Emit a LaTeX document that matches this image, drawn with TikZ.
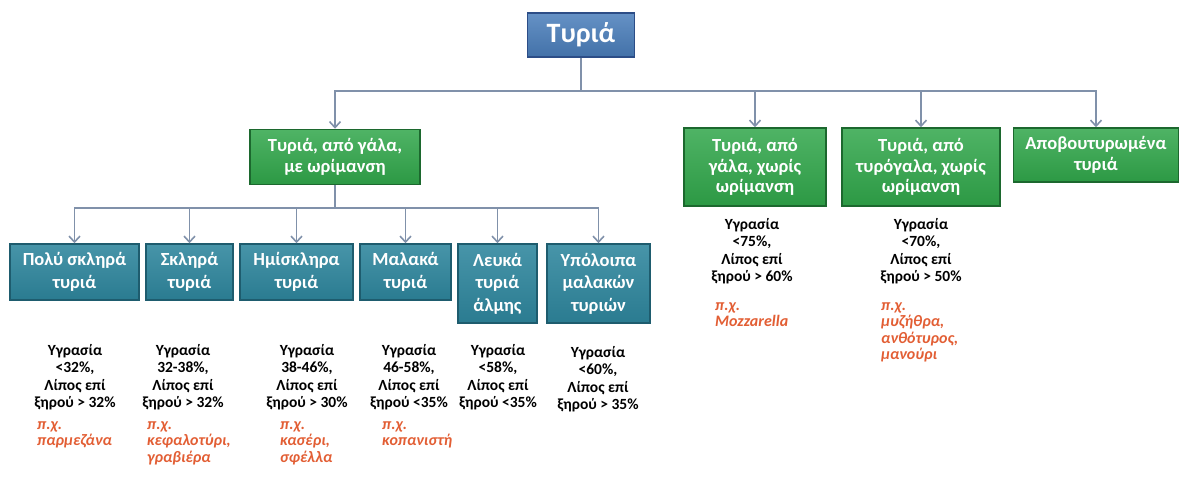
\documentclass[tikz,border=0pt]{standalone}
\usepackage{fontspec}
\setmainfont{Carlito}
\usetikzlibrary{arrows.meta, positioning}

\definecolor{rootblue}{RGB}{74,126,187}
\definecolor{rootedge}{RGB}{44,77,135}
\definecolor{boxgreen}{RGB}{48,166,74}
\definecolor{greenedge}{RGB}{28,104,46}
\definecolor{boxteal}{RGB}{46,134,157}
\definecolor{tealedge}{RGB}{30,92,110}
\definecolor{linkgray}{RGB}{128,145,170}
\definecolor{exred}{RGB}{226,94,52}

\tikzset{
  rootbox/.style={draw=rootedge, line width=1.5pt, top color=rootblue!85!white, bottom color=rootblue!90!black,
    text=white, font=\fontsize{28}{32}\selectfont\bfseries, minimum width=107, minimum height=44, inner sep=0},
  greenbox/.style={draw=greenedge, line width=1.5pt, top color=boxgreen!85!white, bottom color=boxgreen!92!black,
    text=white, align=center, font=\fontsize{18.5}{20.5}\selectfont\bfseries, inner sep=0},
  tealbox/.style={draw=tealedge, line width=1.5pt, top color=boxteal!88!white, bottom color=boxteal!92!black,
    text=white, align=center, font=\fontsize{18.5}{22.5}\selectfont\bfseries, inner sep=0},
  info/.style={align=center, font=\fontsize{15.5}{17.5}\selectfont\bfseries, inner sep=0, anchor=north},
  example/.style={align=left, text=exred, font=\fontsize{16}{16.5}\selectfont\bfseries\itshape,
    inner sep=0, anchor=north west},
  link/.style={draw=linkgray, line width=1.6pt, -{Straight Barb[length=6pt, width=11pt]}}
}

\begin{document}
\begin{tikzpicture}[x=1pt, y=-1pt]
\useasboundingbox (0,0) rectangle (1181,477);

% κορυφή
\node[rootbox] (root) at (581,35) {Τυριά};

% πρώτο επίπεδο
\node[greenbox, minimum width=170, minimum height=55] (gwr) at (335,157) {Τυριά, από γάλα,\\ με ωρίμανση};
\node[greenbox, minimum width=142, minimum height=78] (gxw) at (755,167) {Τυριά, από\\ γάλα, χωρίς\\ ωρίμανση};
\node[greenbox, minimum width=158, minimum height=78] (gtg) at (921,167) {Τυριά, από\\ τυρόγαλα, χωρίς\\ ωρίμανση};
\node[greenbox, minimum width=165, minimum height=54] (gap) at (1096,155) {Αποβουτυρωμένα\\ τυριά};

\coordinate (bus1) at (581,91);
\foreach \c in {gwr,gxw,gtg,gap}
  \draw[link] (root.south) -- (bus1) -| (\c.north);

% δεύτερο επίπεδο
\node[tealbox, minimum width=129, minimum height=56] (t1) at (74.5,272) {Πολύ σκληρά\\ τυριά};
\node[tealbox, minimum width=87, minimum height=56] (t2) at (189.5,272) {Σκληρά\\ τυριά};
\node[tealbox, minimum width=113, minimum height=56] (t3) at (296.5,272) {Ημίσκληρα\\ τυριά};
\node[tealbox, minimum width=91, minimum height=56] (t4) at (405.5,272) {Μαλακά\\ τυριά};
\node[tealbox, minimum width=79, minimum height=79] (t5) at (497.5,283.5) {Λευκά\\ τυριά\\ άλμης};
\node[tealbox, minimum width=103, minimum height=79] (t6) at (598.5,283.5) {Υπόλοιπα\\ μαλακών\\ τυριών};

\coordinate (bus2) at (335,208);
\foreach \c in {t1,t2,t3,t4,t5,t6}
  \draw[link] (gwr.south) -- (bus2) -| (\c.north);

% υγρασία / λίπος
\node[info] (i1) at (75,344) {Υγρασία\\ <32\%,\\ Λίπος επί\\ ξηρού > 32\%};
\node[info] (i2) at (183,344) {Υγρασία\\ 32-38\%,\\ Λίπος επί\\ ξηρού > 32\%};
\node[info] (i3) at (307,344) {Υγρασία\\ 38-46\%,\\ Λίπος επί\\ ξηρού > 30\%};
\node[info] (i4) at (409,344) {Υγρασία\\ 46-58\%,\\ Λίπος επί\\ ξηρού <35\%};
\node[info] (i5) at (498,344) {Υγρασία\\ <58\%,\\ Λίπος επί\\ ξηρού <35\%};
\node[info] (i6) at (598,346) {Υγρασία\\ <60\%,\\ Λίπος επί\\ ξηρού > 35\%};
\node[info] (i7) at (752,218) {Υγρασία\\ <75\%,\\ Λίπος επί\\ ξηρού > 60\%};
\node[info] (i8) at (921,218) {Υγρασία\\ <70\%,\\ Λίπος επί\\ ξηρού > 50\%};

% παραδείγματα
\node[example] (e1) at (37,421) {π.χ.\\ παρμεζάνα};
\node[example] (e2) at (147,421) {π.χ.\\ κεφαλοτύρι,\\ γραβιέρα};
\node[example] (e3) at (280,421) {π.χ.\\ κασέρι,\\ σφέλλα};
\node[example] (e4) at (382,421) {π.χ.\\ κοπανιστή};
\node[example] (e7) at (715,302) {π.χ.\\ Mozzarella};
\node[example] (e8) at (881,302) {π.χ.\\ μυζήθρα,\\ ανθότυρος,\\ μανούρι};
\end{tikzpicture}
\end{document}
